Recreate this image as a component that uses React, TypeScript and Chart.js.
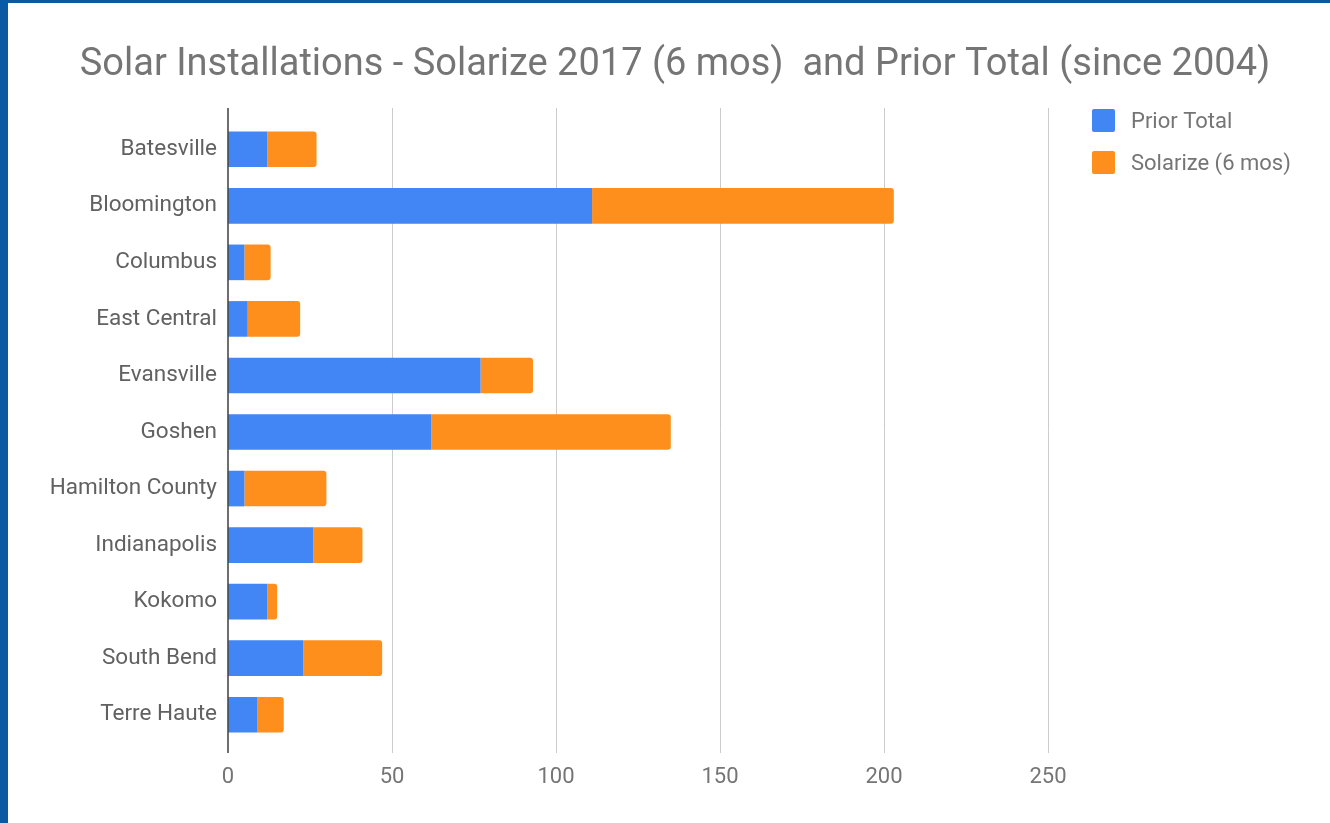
import React, { useEffect, useRef } from "react";
import { Chart, registerables } from "chart.js";

Chart.register(...registerables);

const categories = [
  "Batesville",
  "Bloomington",
  "Columbus",
  "East Central",
  "Evansville",
  "Goshen",
  "Hamilton County",
  "Indianapolis",
  "Kokomo",
  "South Bend",
  "Terre Haute",
];
const priorTotal = [12, 111, 5, 6, 77, 62, 5, 26, 12, 23, 9];
const solarize = [15, 92, 8, 16, 16, 73, 25, 15, 3, 24, 8];
const xTicks = [0, 50, 100, 150, 200, 250];
const seriesLabels = ["Prior Total", "Solarize (6 mos)"];
const seriesColors = ["#4285f4", "#ff8f1c"];
const titleText =
  "Solar Installations - Solarize 2017 (6 mos)  and Prior Total (since 2004)";

const FONT = "Roboto";

const decorPlugin = {
  id: "decor",
  beforeDatasetsDraw(chart: any) {
    const { ctx, chartArea, scales } = chart;
    const x = scales.x;
    ctx.save();
    ctx.strokeStyle = "#cccccc";
    ctx.lineWidth = 1;
    xTicks.forEach((v) => {
      if (v === 0) return;
      const px = Math.round(x.getPixelForValue(v)) + 0.5;
      ctx.beginPath();
      ctx.moveTo(px, chartArea.top - 13);
      ctx.lineTo(px, chartArea.bottom + 10);
      ctx.stroke();
    });
    ctx.restore();
  },
  afterDatasetsDraw(chart: any) {
    const { ctx, chartArea, scales } = chart;
    const px = scales.x.getPixelForValue(0);
    ctx.save();
    ctx.strokeStyle = "#4a4a4a";
    ctx.lineWidth = 1.6;
    ctx.beginPath();
    ctx.moveTo(px, chartArea.top - 13);
    ctx.lineTo(px, chartArea.bottom + 10);
    ctx.stroke();
    ctx.restore();
  },
  afterDraw(chart: any) {
    const { ctx } = chart;
    ctx.save();
    // title
    ctx.font = `38px ${FONT}`;
    ctx.fillStyle = "#757575";
    ctx.textAlign = "center";
    ctx.textBaseline = "alphabetic";
    ctx.fillText(titleText, 667, 72);
    // legend
    ctx.font = `22px ${FONT}`;
    ctx.textAlign = "left";
    chart.data.datasets.forEach((ds: any, i: number) => {
      const y = 106 + i * 42;
      ctx.fillStyle = ds.backgroundColor;
      ctx.beginPath();
      (ctx as any).roundRect(1084, y, 23, 23, 2);
      ctx.fill();
      ctx.fillStyle = "#757575";
      ctx.fillText(ds.label, 1123, y + 18.7);
    });
    ctx.restore();
  },
};

export default function App() {
  const canvasRef = useRef<HTMLCanvasElement | null>(null);

  useEffect(() => {
    document.body.style.margin = "0";
    const canvas = canvasRef.current;
    if (!canvas) return;
    const chart = new Chart(canvas, {
      type: "bar",
      data: {
        labels: categories,
        datasets: [
          {
            label: seriesLabels[0],
            data: priorTotal,
            backgroundColor: seriesColors[0],
            borderWidth: 0,
            barPercentage: 0.63,
            categoryPercentage: 1,
          },
          {
            label: seriesLabels[1],
            data: solarize,
            backgroundColor: seriesColors[1],
            borderWidth: 0,
            borderRadius: { topRight: 3, bottomRight: 3, topLeft: 0, bottomLeft: 0 },
            borderSkipped: false,
            barPercentage: 0.63,
            categoryPercentage: 1,
          },
        ],
      },
      plugins: [decorPlugin],
      options: {
        indexAxis: "y",
        responsive: false,
        animation: false,
        devicePixelRatio: 1,
        layout: { padding: { top: 118, right: 282, bottom: 30, left: 0 } },
        plugins: {
          legend: { display: false },
          title: { display: false },
          tooltip: { enabled: false },
        },
        scales: {
          x: {
            type: "linear",
            stacked: true,
            min: 0,
            max: 250,
            afterBuildTicks: (scale: any) => {
              scale.ticks = xTicks.map((v) => ({ value: v }));
            },
            afterFit: (scale: any) => {
              scale.height = 50;
            },
            grid: { display: false },
            border: { display: false },
            ticks: {
              padding: 13,
              color: "#757575",
              font: { family: FONT, size: 22 },
            },
          },
          y: {
            type: "category",
            stacked: true,
            afterFit: (scale: any) => {
              scale.width = 220;
            },
            grid: { display: false },
            border: { display: false },
            ticks: {
              padding: 3,
              color: "#616161",
              font: { family: FONT, size: 22.5 },
            },
          },
        },
      },
    } as any);
    return () => chart.destroy();
  }, []);

  return (
    <div
      style={{
        width: 1330,
        height: 823,
        boxSizing: "border-box",
        borderLeft: "8px solid #0b5aa1",
        borderTop: "3px solid #0b5aa1",
        background: "#ffffff",
      }}
    >
      <canvas ref={canvasRef} width={1322} height={820} style={{ display: "block" }} />
    </div>
  );
}
